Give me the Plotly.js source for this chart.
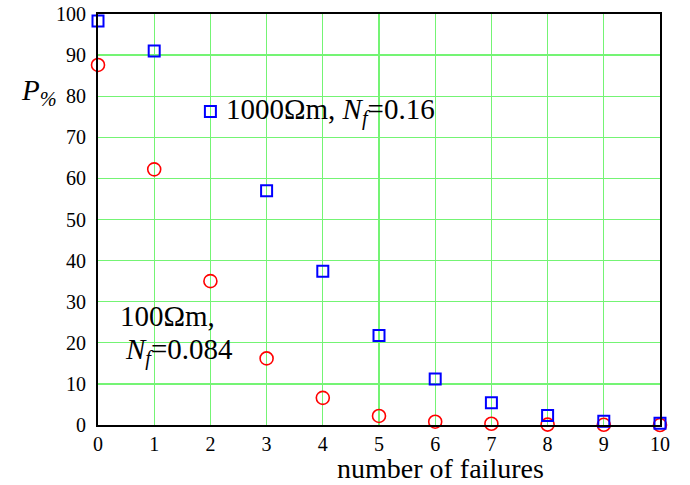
<!DOCTYPE html>
<html>
<head>
<meta charset="utf-8">
<script src="https://cdn.plot.ly/plotly-3.0.1.min.js"></script>
<style>html,body{margin:0;padding:0;background:#fff;}</style>
</head>
<body>
<div id="chart" style="width:690px;height:485px;"></div>
<script>
const failures = [0, 1, 2, 3, 4, 5, 6, 7, 8, 9, 10];
const p1000 = [98.3, 91.0, 76.3, 57.0, 37.4, 21.8, 11.2, 5.4, 2.3, 0.9, 0.4];
const p100 = [87.6, 62.2, 35.0, 16.2, 6.6, 2.2, 0.8, 0.3, 0.1, 0.05, 0.0];
const xTicks = [0, 1, 2, 3, 4, 5, 6, 7, 8, 9, 10];
const yTicks = [0, 10, 20, 30, 40, 50, 60, 70, 80, 90, 100];

const font = "'Liberation Serif', 'Times New Roman', Times, serif";

const traces = [
  {x: failures, y: p100, mode: 'markers', type: 'scatter', cliponaxis: false,
   marker: {symbol: 'circle-open', size: 13, color: '#ff0000', line: {width: 1.6, color: '#ff0000'}}},
  {x: failures, y: p1000, mode: 'markers', type: 'scatter', cliponaxis: false,
   marker: {symbol: 'square-open', size: 11, color: '#0000ff', line: {width: 2, color: '#0000ff'}}}
];

const layout = {
  width: 690, height: 485,
  margin: {l: 98, r: 30, t: 14, b: 60},
  paper_bgcolor: '#fff', plot_bgcolor: '#fff',
  showlegend: false,
  font: {family: font, color: '#000', size: 20},
  xaxis: {range: [0, 10], tickvals: xTicks, ticktext: xTicks.map(String),
    showgrid: true, gridcolor: '#74f474', gridwidth: 1.3,
    showline: true, linecolor: '#000', linewidth: 2, mirror: true,
    zeroline: false, ticks: '', ticklen: 0, ticklabelstandoff: 0,
    tickfont: {size: 20, family: font}},
  yaxis: {range: [0, 100], tickvals: yTicks, ticktext: yTicks.map(String),
    showgrid: true, gridcolor: '#74f474', gridwidth: 1.3,
    showline: true, linecolor: '#000', linewidth: 2, mirror: true,
    zeroline: false, ticks: '', ticklen: 0, ticklabelstandoff: 6,
    tickfont: {size: 20, family: font}},
  annotations: [
    {xref: 'x', yref: 'y', x: 2.24, y: 76.4, xanchor: 'left', yanchor: 'middle', showarrow: false,
     text: '1000Ωm, <i>N</i><sub><i>f</i></sub>=0.16', font: {size: 29, family: font}},
    {xref: 'x', yref: 'y', x: 0.36, y: 26.5, xanchor: 'left', yanchor: 'middle', showarrow: false,
     text: '100Ωm,', font: {size: 29, family: font}},
    {xref: 'x', yref: 'y', x: 0.44, y: 17.8, xanchor: 'left', yanchor: 'middle', showarrow: false,
     text: '<i>N</i><sub><i>f</i></sub>=0.084', font: {size: 29, family: font}},
    {xref: 'paper', yref: 'paper', x: -0.14, y: 0.81, xanchor: 'left', yanchor: 'middle', showarrow: false,
     text: '<i>P</i><sub><i>%</i></sub>', font: {size: 29, family: font}},
    {xref: 'paper', yref: 'paper', x: 0.61, y: -0.106, xanchor: 'center', yanchor: 'middle', showarrow: false,
     text: 'number of failures', font: {size: 28, family: font}}
  ]
};

Plotly.newPlot('chart', traces, layout, {displayModeBar: false, staticPlot: true});
</script>
</body>
</html>
